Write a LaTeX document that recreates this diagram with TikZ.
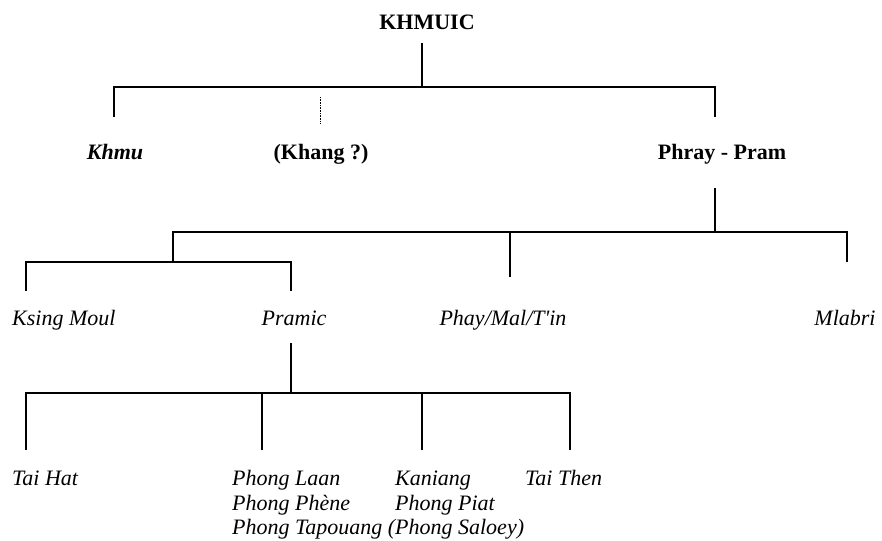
\documentclass[tikz,border=0pt]{standalone}
\usepackage{fontspec}
\setmainfont{Liberation Serif}

\begin{document}
\begin{tikzpicture}[x=1pt,y=-1pt,
        lang/.style={inner sep=0pt,font=\fontsize{22}{27}\selectfont\itshape},
        family/.style={inner sep=0pt,anchor=base,font=\fontsize{22}{27}\selectfont\bfseries},
        branch/.style={line width=1.1pt},
        doubtful/.style={line width=0.6pt,densely dotted}]
    \useasboundingbox (0,0) rectangle (882,540);

    \node[family] (khmuic) at (427,30) {KHMUIC};
    \node[family,font=\fontsize{22}{27}\selectfont\bfseries\itshape] (khmu) at (115,160) {Khmu};
    \node[family] (khang) at (321,160) {(Khang ?)};
    \node[family] (phray) at (722,160) {Phray - Pram};

    \node[lang,anchor=base west] (ksing) at (12,325) {Ksing Moul};
    \node[lang,anchor=base] (pramic) at (294,325) {Pramic};
    \node[lang,anchor=base] (phay) at (503,325) {Phay/Mal/T\textquotesingle in};
    \node[lang,anchor=base] (mlabri) at (845,325) {Mlabri};

    \node[lang,anchor=base west] (taihat) at (12,485) {Tai Hat};
    \node[lang,anchor=base west] (laan) at (232,485) {Phong Laan};
    \node[lang,anchor=base west] (phene) at (232,510) {Phong Phène};
    \node[lang,anchor=base west] (tapouang) at (232,534) {Phong Tapouang (Phong Saloey)};
    \node[lang,anchor=base west] (kaniang) at (395,485) {Kaniang};
    \node[lang,anchor=base west] (piat) at (395,510) {Phong Piat};
    \node[lang,anchor=base west] (taithen) at (525,485) {Tai Then};

    \coordinate (khmuic-b) at (422,43);
    \coordinate (bar1) at (422,87);
    \coordinate (khmu-t) at (114,117);
    \coordinate (khang-t) at (320,97);
    \coordinate (khang-b) at (320,123);
    \coordinate (phray-t) at (715,117);

    \coordinate (phray-b) at (715,188);
    \coordinate (bar2) at (715,232);
    \coordinate (sub-j) at (173,232);
    \coordinate (sub-bar) at (173,262);
    \coordinate (phay-t) at (510,277);
    \coordinate (mlabri-t) at (847,262);
    \coordinate (ksing-t) at (26,291);
    \coordinate (pramic-t) at (291,291);

    \coordinate (pramic-b) at (291,343);
    \coordinate (bar3) at (291,393);
    \coordinate (taihat-t) at (26,450);
    \coordinate (laan-t) at (262,450);
    \coordinate (kaniang-t) at (422,450);
    \coordinate (taithen-t) at (570,450);

    \draw[branch] (khmuic-b) -- (bar1);
    \draw[branch] (khmu-t) |- (bar1) -| (phray-t);
    \draw[doubtful] (khang-t) -- (khang-b);

    \draw[branch] (phray-b) -- (bar2);
    \draw[branch] (sub-bar) -- (sub-j) -| (mlabri-t);
    \draw[branch] (phay-t) -- (phay-t |- bar2);
    \draw[branch] (ksing-t) |- (sub-bar) -| (pramic-t);

    \draw[branch] (pramic-b) -- (bar3);
    \draw[branch] (taihat-t) |- (bar3) -| (taithen-t);
    \draw[branch] (laan-t) -- (laan-t |- bar3);
    \draw[branch] (kaniang-t) -- (kaniang-t |- bar3);
\end{tikzpicture}
\end{document}
